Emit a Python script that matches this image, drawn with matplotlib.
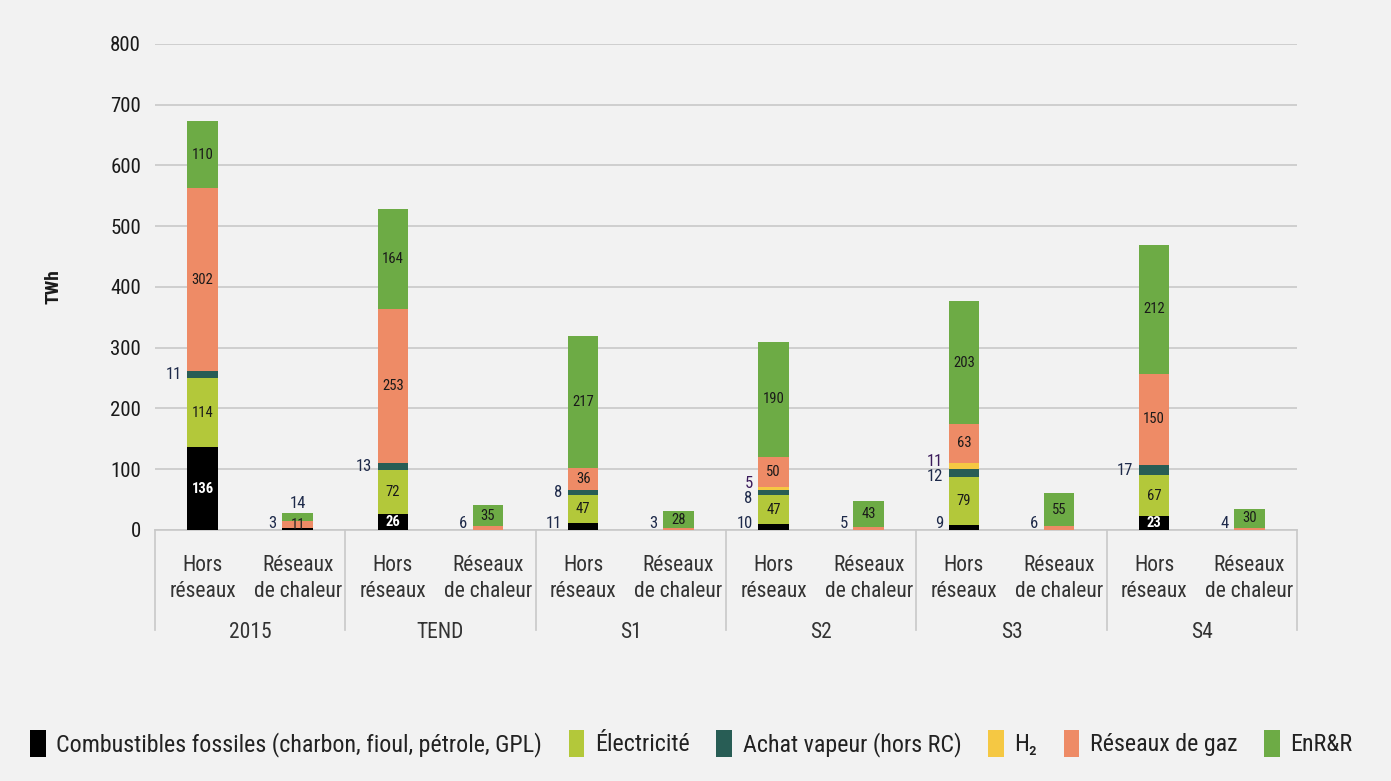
import matplotlib
matplotlib.use("Agg")
import matplotlib.pyplot as plt
import matplotlib.transforms as mtransforms
from matplotlib.patches import Patch
import numpy as np

plt.rcParams['font.family'] = ['Roboto Condensed', 'DejaVu Sans']
plt.rcParams['font.weight'] = 'normal'

scenarios = ["2015", "TEND", "S1", "S2", "S3", "S4"]
sub_labels = ["Hors\nréseaux", "Réseaux\nde chaleur"]
series_names = ["Combustibles fossiles (charbon, fioul, pétrole, GPL)", "Électricité",
                "Achat vapeur (hors RC)", "H₂", "Réseaux de gaz", "EnR&R"]
colors = ["#000000", "#b3c83a", "#285d55", "#f5c843", "#ee8b66", "#6dab45"]

# order of bars: 2015 HR, 2015 RC, TEND HR, TEND RC, ...
fossiles    = [136, 3, 26, 0, 11, 0, 10, 0, 9, 0, 23, 0]
electricite = [114, 0, 72, 0, 47, 0, 47, 0, 79, 0, 67, 0]
vapeur      = [11, 0, 13, 0, 8, 0, 8, 0, 12, 0, 17, 0]
h2          = [0, 0, 0, 0, 0, 0, 5, 0, 11, 0, 0, 0]
gaz         = [302, 11, 253, 6, 36, 3, 50, 5, 63, 6, 150, 4]
enr         = [110, 14, 164, 35, 217, 28, 190, 43, 203, 55, 212, 30]

series = [np.array(s, dtype=float) for s in
          (fossiles, electricite, vapeur, h2, gaz, enr)]

fig = plt.figure(figsize=(13.91, 7.81), dpi=100)
fig.patch.set_facecolor("#f2f2f2")
ax = fig.add_axes([0.1114, 0.3214, 0.821, 0.6223])
ax.set_facecolor("#f2f2f2")

n = len(fossiles)
x = np.arange(n)
width = 0.32
bottom = np.zeros(n)
for vals, col in zip(series, colors):
    ax.bar(x, vals, width, bottom=bottom, color=col, zorder=3)
    bottom = bottom + vals

side_color = "#1e2a4a"
lab_fs = 10.5
for i in range(n):
    b = 0.0
    side = []
    for si in range(len(series)):
        v = series[si][i]
        if v <= 0:
            continue
        center = b + v / 2
        if i == 1 and si == 4:
            ax.text(x[i], max(center, 7), f"{int(v)}", ha="center", va="center",
                    fontsize=lab_fs, color="#222222", zorder=5)
        elif i == 1 and si == 5:
            ax.text(x[i], b + v + 16, f"{int(v)}", ha="center", va="center",
                    fontsize=lab_fs + 1.5, color=side_color, zorder=5)
        elif v >= 20:
            tc = "white" if si == 0 else "#1a1a1a"
            ax.text(x[i], center, f"{int(v)}", ha="center", va="center",
                    fontsize=lab_fs, color=tc, zorder=5,
                    fontweight="bold" if si == 0 else "normal")
        else:
            side.append([max(center, 11), int(v), si])
        b += v
    sep = 25
    for k in range(1, len(side)):
        if side[k][0] - side[k - 1][0] < sep:
            mid = (side[k][0] + side[k - 1][0]) / 2
            lo = mid - sep / 2
            if k - 1 == 0 and lo < side[k - 1][0]:
                lo = side[k - 1][0]
            side[k - 1][0] = lo
            side[k][0] = lo + sep
    for yv, v, si in side:
        c = "#3a1a5a" if si == 3 else side_color
        ax.text(x[i] - width / 2 - 0.06, yv, f"{v}", ha="right", va="center",
                fontsize=lab_fs + 1.5, color=c, zorder=5)

ax.set_ylim(0, 800)
ax.set_xlim(-0.5, n - 0.5)
ax.set_yticks(np.arange(0, 801, 100))
ax.tick_params(axis="y", length=0, labelsize=15, pad=10, colors="#1a1a1a")
ax.yaxis.grid(True, color="#c8c8c8", linewidth=1.2, zorder=0)
ax.set_axisbelow(True)
for s in ["top", "right", "left"]:
    ax.spines[s].set_visible(False)
ax.spines["bottom"].set_color("#c8c8c8")
ax.spines["bottom"].set_linewidth(1.2)
ax.set_ylabel("TWh", fontsize=14, fontweight="bold", labelpad=34, color="#1a1a1a")

ax.set_xticks(x)
ax.set_xticklabels(sub_labels * len(scenarios), fontsize=15.5, color="#333333",
                   linespacing=1.3)
ax.tick_params(axis="x", length=0, pad=18)

trans = mtransforms.blended_transform_factory(ax.transData, ax.transAxes)
sep_h = 100 / 486
for k in range(len(scenarios) + 1):
    xx = -0.5 + 2 * k
    ax.plot([xx, xx], [0, -sep_h], transform=trans, color="#c8c8c8", lw=1.2,
            clip_on=False)
for k, s in enumerate(scenarios):
    ax.text(2 * k + 0.5, -0.21, s, transform=trans, ha="center", va="center",
            fontsize=15.5, color="#333333")

handles = [Patch(facecolor=c, edgecolor="none") for c in colors]
fig.legend(handles, series_names, loc="lower left", bbox_to_anchor=(0.006, 0.003),
           ncol=6, frameon=False, fontsize=17.3, handlelength=0.65, handleheight=1.3,
           handletextpad=0.45, columnspacing=1.1, labelcolor="#222222")

fig.savefig("out.png", dpi=100, facecolor=fig.get_facecolor())
